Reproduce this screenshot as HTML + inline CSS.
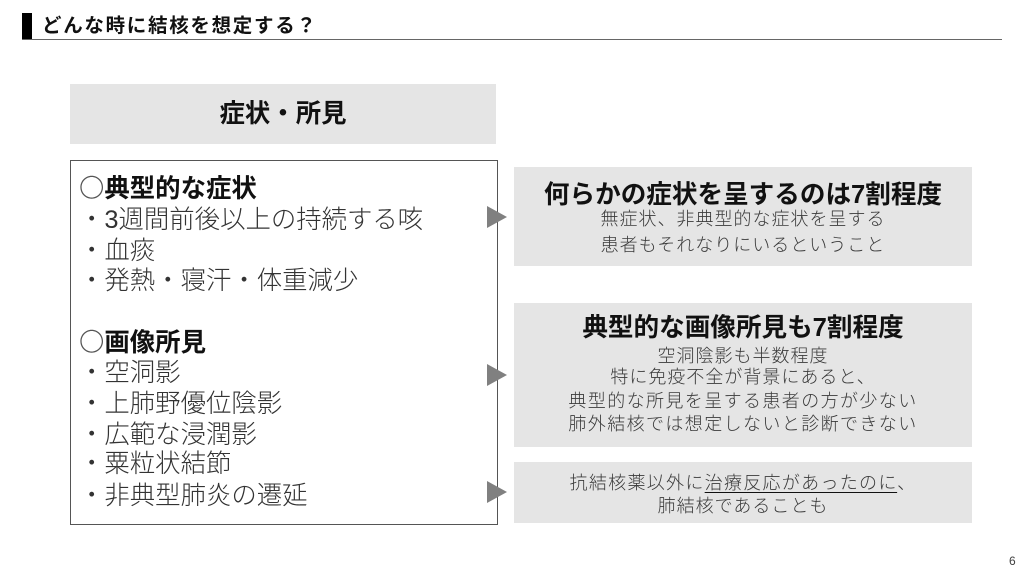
<!DOCTYPE html>
<html lang="ja"><head><meta charset="utf-8">
<style>
html,body{margin:0;padding:0;background:#fff}
#p{position:relative;width:1024px;height:576px;overflow:hidden;background:#fff;font-family:"Liberation Sans","Noto Sans CJK JP",sans-serif;color:#404040}
#p div{position:absolute}
.t{white-space:nowrap;line-height:1}
.c{text-align:center}
.b{font-weight:700;color:#111}
.box{background:#e5e5e5}
.l{font-size:25.4px;left:79px;color:#333;font-weight:300}
.h{font-size:25.4px;left:79px;font-weight:700;color:#111}
.h span{font-weight:300;color:#555}
.s{font-size:18px;letter-spacing:1px;color:#3a3a3a;left:514px;width:458px;font-weight:300}
.w{letter-spacing:1.4px}
.tri{width:0;height:0;border-left:20px solid #808080;border-top:11.5px solid transparent;border-bottom:11.5px solid transparent;left:487px}
</style></head><body><div id="p">
<div style="left:22px;top:13px;width:10px;height:26px;background:#000"></div>
<div style="left:22px;top:39px;width:980px;height:1px;background:#666"></div>
<div class="t b" style="left:42px;top:17px;font-size:19.5px;letter-spacing:1.7px">どんな時に結核を想定する？</div>

<div class="box" style="left:70px;top:84px;width:426px;height:60px"></div>
<div class="t b c" style="left:70px;top:102px;width:426px;font-size:25.4px">症状・所見</div>

<div style="left:70px;top:160px;width:426px;height:363px;border:1px solid #555;box-sizing:content-box"></div>

<div class="t h" style="top:177px"><span>〇</span>典型的な症状</div>
<div class="t l" style="top:208px">・3週間前後以上の持続する咳</div>
<div class="t l" style="top:239px">・血痰</div>
<div class="t l" style="top:269px">・発熱・寝汗・体重減少</div>
<div class="t h" style="top:331px"><span>〇</span>画像所見</div>
<div class="t l" style="top:361px">・空洞影</div>
<div class="t l" style="top:392px">・上肺野優位陰影</div>
<div class="t l" style="top:423px">・広範な浸潤影</div>
<div class="t l" style="top:452px">・粟粒状結節</div>
<div class="t l" style="top:484px">・非典型肺炎の遷延</div>

<div class="tri" style="top:206px"></div>
<div class="tri" style="top:364px"></div>
<div class="tri" style="top:481px"></div>

<div class="box" style="left:514px;top:167px;width:458px;height:99px"></div>
<div class="t b c" style="left:514px;top:183px;width:458px;font-size:25.6px">何らかの症状を呈するのは7割程度</div>
<div class="t c s" style="top:210px">無症状、非典型的な症状を呈する</div>
<div class="t c s" style="top:236px">患者もそれなりにいるということ</div>

<div class="box" style="left:514px;top:303px;width:458px;height:144px"></div>
<div class="t b c" style="left:514px;top:316px;width:458px;font-size:25.6px">典型的な画像所見も7割程度</div>
<div class="t c s" style="top:347px">空洞陰影も半数程度</div>
<div class="t c s" style="top:368px">特に免疫不全が背景にあると、</div>
<div class="t c s w" style="top:392px">典型的な所見を呈する患者の方が少ない</div>
<div class="t c s w" style="top:415px">肺外結核では想定しないと診断できない</div>

<div class="box" style="left:514px;top:462px;width:458px;height:61px"></div>
<div class="t c s" style="top:474px;letter-spacing:1.3px">抗結核薬以外に<span style="text-decoration:underline;text-decoration-color:#111;text-underline-offset:3px">治療反応があったのに</span>、</div>
<div class="t c s" style="top:497px">肺結核であることも</div>

<div class="t" style="left:1009px;top:555px;font-size:12px;color:#404040">6</div>
</div></body></html>
